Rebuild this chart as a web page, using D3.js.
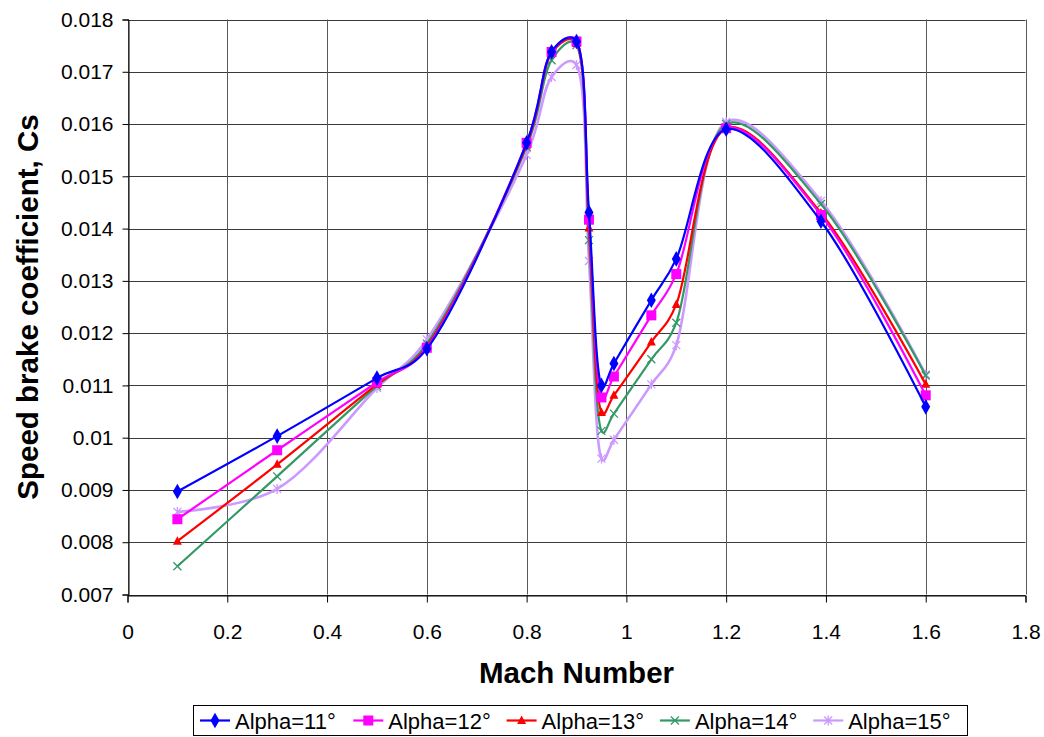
<!DOCTYPE html>
<html>
<head>
<meta charset="utf-8">
<script src="https://cdn.jsdelivr.net/npm/d3@7"></script>
<style>
  html, body { margin: 0; padding: 0; background: #fff; }
  svg { display: block; font-family: "Liberation Sans", Arial, sans-serif; }
</style>
</head>
<body>
<svg id="chart" width="1044" height="737"></svg>
<script>
// Mach numbers at which the speed brake coefficient was evaluated
const mach = [0.1, 0.3, 0.5, 0.6, 0.8, 0.85, 0.9, 0.925, 0.95, 0.975, 1.05, 1.1, 1.2, 1.39, 1.6];

// Speed brake coefficient Cs for each angle of attack
const alpha11 = [0.00897, 0.01003, 0.01114, 0.01170, 0.01564, 0.01738, 0.01758, 0.01431, 0.01100, 0.01142, 0.01263, 0.01342, 0.01590, 0.01414, 0.01059];
const alpha12 = [0.00844, 0.00976, 0.01106, 0.01172, 0.01564, 0.01738, 0.01758, 0.01417, 0.01077, 0.01117, 0.01234, 0.01313, 0.01592, 0.01426, 0.01081];
const alpha13 = [0.00802, 0.00949, 0.01102, 0.01175, 0.01560, 0.01735, 0.01754, 0.01401, 0.01048, 0.01081, 0.01183, 0.01255, 0.01592, 0.01430, 0.01102];
const alpha14 = [0.00754, 0.00926, 0.01099, 0.01180, 0.01556, 0.01722, 0.01751, 0.01378, 0.01013, 0.01046, 0.01150, 0.01220, 0.01600, 0.01447, 0.01119];
const alpha15 = [0.00858, 0.00902, 0.01095, 0.01188, 0.01541, 0.01690, 0.01713, 0.01338, 0.00960, 0.00996, 0.01102, 0.01177, 0.01604, 0.01453, 0.01121];

const seriesNames = ["Alpha=11°", "Alpha=12°", "Alpha=13°", "Alpha=14°", "Alpha=15°"];
const seriesColors = ["#0000FF", "#FF00FF", "#FF0000", "#339966", "#CC99FF"];
const seriesMarkers = ["diamond", "square", "triangle", "cross", "star"];

// Axis tick values
const xTicks = [0, 0.2, 0.4, 0.6, 0.8, 1, 1.2, 1.4, 1.6, 1.8];
const yTicks = [0.007, 0.008, 0.009, 0.01, 0.011, 0.012, 0.013, 0.014, 0.015, 0.016, 0.017, 0.018];

const seriesValues = [alpha11, alpha12, alpha13, alpha14, alpha15];
const series = seriesNames.map((name, i) => ({
  name, color: seriesColors[i], marker: seriesMarkers[i],
  points: mach.map((m, j) => ({ x: m, y: seriesValues[i][j] }))
}));

const svg = d3.select("#chart");
const plot = { left: 127.5, right: 1025.5, top: 19.5, bottom: 594.5 };

const x = d3.scaleLinear().domain([0, 1.8]).range([plot.left, plot.right]);
const y = d3.scaleLinear().domain([0.007, 0.018]).range([plot.bottom, plot.top]);

// Grid
const grid = svg.append("g");
grid.selectAll("line.h").data(yTicks).join("line")
  .attr("x1", plot.left).attr("x2", plot.right)
  .attr("y1", d => Math.round(y(d)) + 0.5).attr("y2", d => Math.round(y(d)) + 0.5)
  .attr("stroke", "#3a3a3a").attr("stroke-width", 1);
grid.selectAll("line.v").data(xTicks).join("line")
  .attr("y1", plot.top).attr("y2", plot.bottom)
  .attr("x1", d => Math.round(x(d)) + 0.5).attr("x2", d => Math.round(x(d)) + 0.5)
  .attr("stroke", "#5a5a5a").attr("stroke-width", 1);

// Axes
const fmtY = d => d3.format("")(+d.toFixed(3));
const yAxis = d3.axisLeft(y).tickValues(yTicks).tickSize(6).tickPadding(9).tickFormat(fmtY);
const xAxis = d3.axisBottom(x).tickValues(xTicks).tickSize(7).tickPadding(22).tickFormat(d => +d.toFixed(1));

const gy = svg.append("g").attr("transform", `translate(${Math.round(plot.left) + 0.5},0)`).call(yAxis);
const gx = svg.append("g").attr("transform", `translate(0,${Math.round(plot.bottom) + 0.5})`).call(xAxis);
[gx, gy].forEach(g => {
  g.select(".domain").attr("stroke", "#000");
  g.selectAll(".tick line").attr("stroke", "#000");
  g.selectAll(".tick text").attr("fill", "#000").attr("font-size", 21)
    .attr("font-family", "'Liberation Sans', Arial, sans-serif");
});

// Smoothed curves
const line = d3.line().x(d => x(d.x)).y(d => y(d.y)).curve(d3.curveCatmullRom.alpha(0.3));

function drawMarker(g, type, color, cx, cy) {
  if (type === "diamond") {
    g.append("path").attr("d", d3.symbol(d3.symbolDiamond, 70)()).attr("transform", `translate(${cx},${cy})`).attr("fill", color);
  } else if (type === "square") {
    g.append("rect").attr("x", cx - 5).attr("y", cy - 5).attr("width", 10).attr("height", 10).attr("fill", color);
  } else if (type === "triangle") {
    g.append("path").attr("d", `M${cx},${cy - 5}L${cx + 4.5},${cy + 3.5}L${cx - 4.5},${cy + 3.5}Z`).attr("fill", color);
  } else if (type === "cross") {
    g.append("path").attr("d", `M${cx - 4},${cy - 4}L${cx + 4},${cy + 4}M${cx - 4},${cy + 4}L${cx + 4},${cy - 4}`)
      .attr("stroke", color).attr("stroke-width", 1.3).attr("fill", "none");
  } else if (type === "star") {
    g.append("path").attr("d", `M${cx - 4},${cy - 4}L${cx + 4},${cy + 4}M${cx - 4},${cy + 4}L${cx + 4},${cy - 4}M${cx},${cy - 5}L${cx},${cy + 5}`)
      .attr("stroke", color).attr("stroke-width", 1.3).attr("fill", "none");
  }
}

// Draw series from last to first so Alpha=11° sits on top
const lines = svg.append("g");
series.slice().reverse().forEach(s => {
  const g = lines.append("g");
  g.append("path").datum(s.points).attr("d", line)
    .attr("fill", "none").attr("stroke", s.color)
    .attr("stroke-width", s.marker === "star" ? 2.6 : 2.2);
  s.points.forEach(p => drawMarker(g, s.marker, s.color, x(p.x), y(p.y)));
});

// Axis titles
svg.append("text").attr("x", (plot.left + plot.right) / 2).attr("y", 683)
  .attr("text-anchor", "middle").attr("font-size", 29.5).attr("font-weight", "bold")
  .text("Mach Number");
svg.append("text").attr("transform", `translate(38,${(plot.top + plot.bottom) / 2}) rotate(-90)`)
  .attr("text-anchor", "middle").attr("font-size", 29.5).attr("font-weight", "bold")
  .text("Speed brake coefficient, Cs");

// Legend
const legend = svg.append("g");
legend.append("rect").attr("x", 193.5).attr("y", 705.5).attr("width", 774).attr("height", 30)
  .attr("fill", "#fff").attr("stroke", "#000");
const itemStart = 200, itemStep = 153.3;
series.forEach((s, i) => {
  const lx = itemStart + i * itemStep;
  const ly = 720.5;
  legend.append("line").attr("x1", lx).attr("x2", lx + 30).attr("y1", ly).attr("y2", ly)
    .attr("stroke", s.color).attr("stroke-width", 2.2);
  drawMarker(legend, s.marker, s.color, lx + 15, ly);
  legend.append("text").attr("x", lx + 35).attr("y", ly + 8).attr("font-size", 22).text(s.name);
});
</script>
</body>
</html>
